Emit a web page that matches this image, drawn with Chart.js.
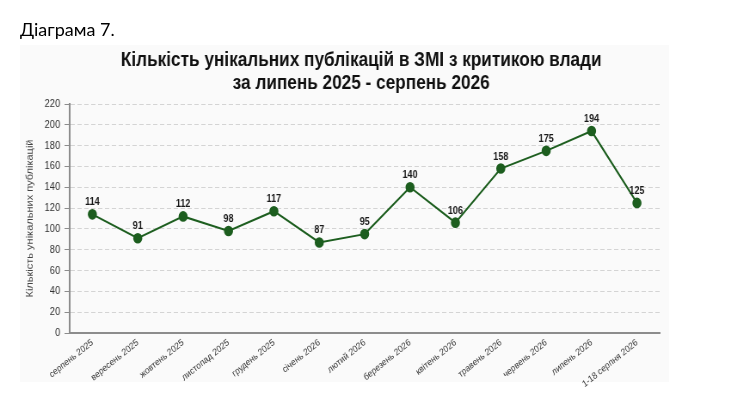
<!DOCTYPE html>
<html>
<head>
<meta charset="utf-8">
<script src="https://cdn.jsdelivr.net/npm/chart.js@4.4.1/dist/chart.umd.min.js"></script>
<style>
  html, body { margin: 0; padding: 0; background: #ffffff; overflow: hidden; }
  #wrap { position: relative; width: 740px; height: 404px; overflow: hidden; }
  #cap { position: absolute; left: 20px; top: 18px; font-family: Lato, "Open Sans", sans-serif; font-size: 18px; color: #000; z-index: 2; }
  #c { position: absolute; left: 0; top: 0; width: 860px; height: 404px; transform: scaleX(0.86); transform-origin: 0 0; }
</style>
</head>
<body>
<div id="wrap">
  <div id="cap">Діаграма 7.</div>
  <canvas id="c" width="860" height="404"></canvas>
</div>
<script>
const categories = ["серпень 2025","вересень 2025","жовтень 2025","листопад 2025","грудень 2025","січень 2026","лютий 2026","березень 2026","квітень 2026","травень 2026","червень 2026","липень 2026","1-18 серпня 2026"];
const values = [114, 91, 112, 98, 117, 87, 95, 140, 106, 158, 175, 194, 125];
const yTicksMax = 220;
const yTickStep = 20;
const titleLines = ["Кількість унікальних публікацій в ЗМІ з критикою влади", "за липень 2025 - серпень 2026"];
const yAxisTitle = "Кількість унікальних публікацій";

const bgPlugin = {
  id: 'bgBox',
  beforeDraw(chart) {
    const ctx = chart.ctx;
    ctx.save();
    ctx.fillStyle = '#fafafa';
    ctx.fillRect(23, 45, 755, 337);
    ctx.restore();
  }
};

const titlePlugin = {
  id: 'mainTitle',
  afterDraw(chart) {
    const ctx = chart.ctx;
    ctx.save();
    ctx.font = 'bold 20px "Liberation Sans", Arial, sans-serif';
    ctx.fillStyle = '#111';
    ctx.textAlign = 'center';
    ctx.textBaseline = 'middle';
    ctx.fillText(titleLines[0], 420, 60);
    ctx.fillText(titleLines[1], 420, 83);
    ctx.restore();
  }
};

const labelPlugin = {
  id: 'pointLabels',
  afterDatasetsDraw(chart) {
    const ctx = chart.ctx;
    const meta = chart.getDatasetMeta(0);
    ctx.save();
    ctx.font = 'bold 10.5px "Liberation Sans", Arial, sans-serif';
    ctx.fillStyle = '#1a1a1a';
    ctx.textAlign = 'center';
    ctx.textBaseline = 'alphabetic';
    meta.data.forEach((pt, i) => {
      ctx.fillText(String(values[i]), pt.x, pt.y - 9);
    });
    ctx.restore();
  }
};

new Chart(document.getElementById('c'), {
  type: 'line',
  data: {
    labels: categories,
    datasets: [{
      data: values,
      borderColor: '#1d5e1f',
      backgroundColor: '#1d5e1f',
      borderWidth: 2,
      pointRadius: 4.3,
      pointBackgroundColor: '#1d5e1f',
      pointBorderColor: '#1d5e1f',
      tension: 0
    }]
  },
  options: {
    responsive: false,
    animation: false,
    devicePixelRatio: 1,
    layout: { padding: { left: 28, right: 93, top: 104, bottom: 0 } },
    plugins: {
      legend: { display: false },
      tooltip: { enabled: false },
      title: { display: false }
    },
    scales: {
      x: {
        offset: true,
        grid: { display: false, drawOnChartArea: false, drawTicks: false },
        border: { display: true, color: '#8c8c8c', width: 2 },
        ticks: {
          color: '#333',
          font: { family: '"Liberation Sans", Arial, sans-serif', size: 9.5 },
          maxRotation: 35, minRotation: 35, padding: 4,
          autoSkip: false
        },
        afterFit(scale) { scale.height = 71; }
      },
      y: {
        position: 'left',
        min: 0, max: yTicksMax,
        ticks: {
          stepSize: yTickStep,
          color: '#333',
          font: { family: '"Liberation Sans", Arial, sans-serif', size: 11 },
          padding: 5
        },
        grid: {
          color: '#d4d4d4',
          lineWidth: 1,
          tickColor: '#8c8c8c',
          tickLength: 6,
          tickWidth: 1,
          tickBorderDash: []
        },
        border: { display: true, color: '#8c8c8c', width: 2, dash: [5, 3] },
        title: {
          display: true,
          text: yAxisTitle,
          color: '#444',
          font: { family: '"Liberation Sans", Arial, sans-serif', size: 11 },
          padding: { top: 0, bottom: 4 }
        },
        afterFit(scale) { scale.width = 53; }
      }
    }
  },
  plugins: [bgPlugin, titlePlugin, labelPlugin]
});
</script>
</body>
</html>
